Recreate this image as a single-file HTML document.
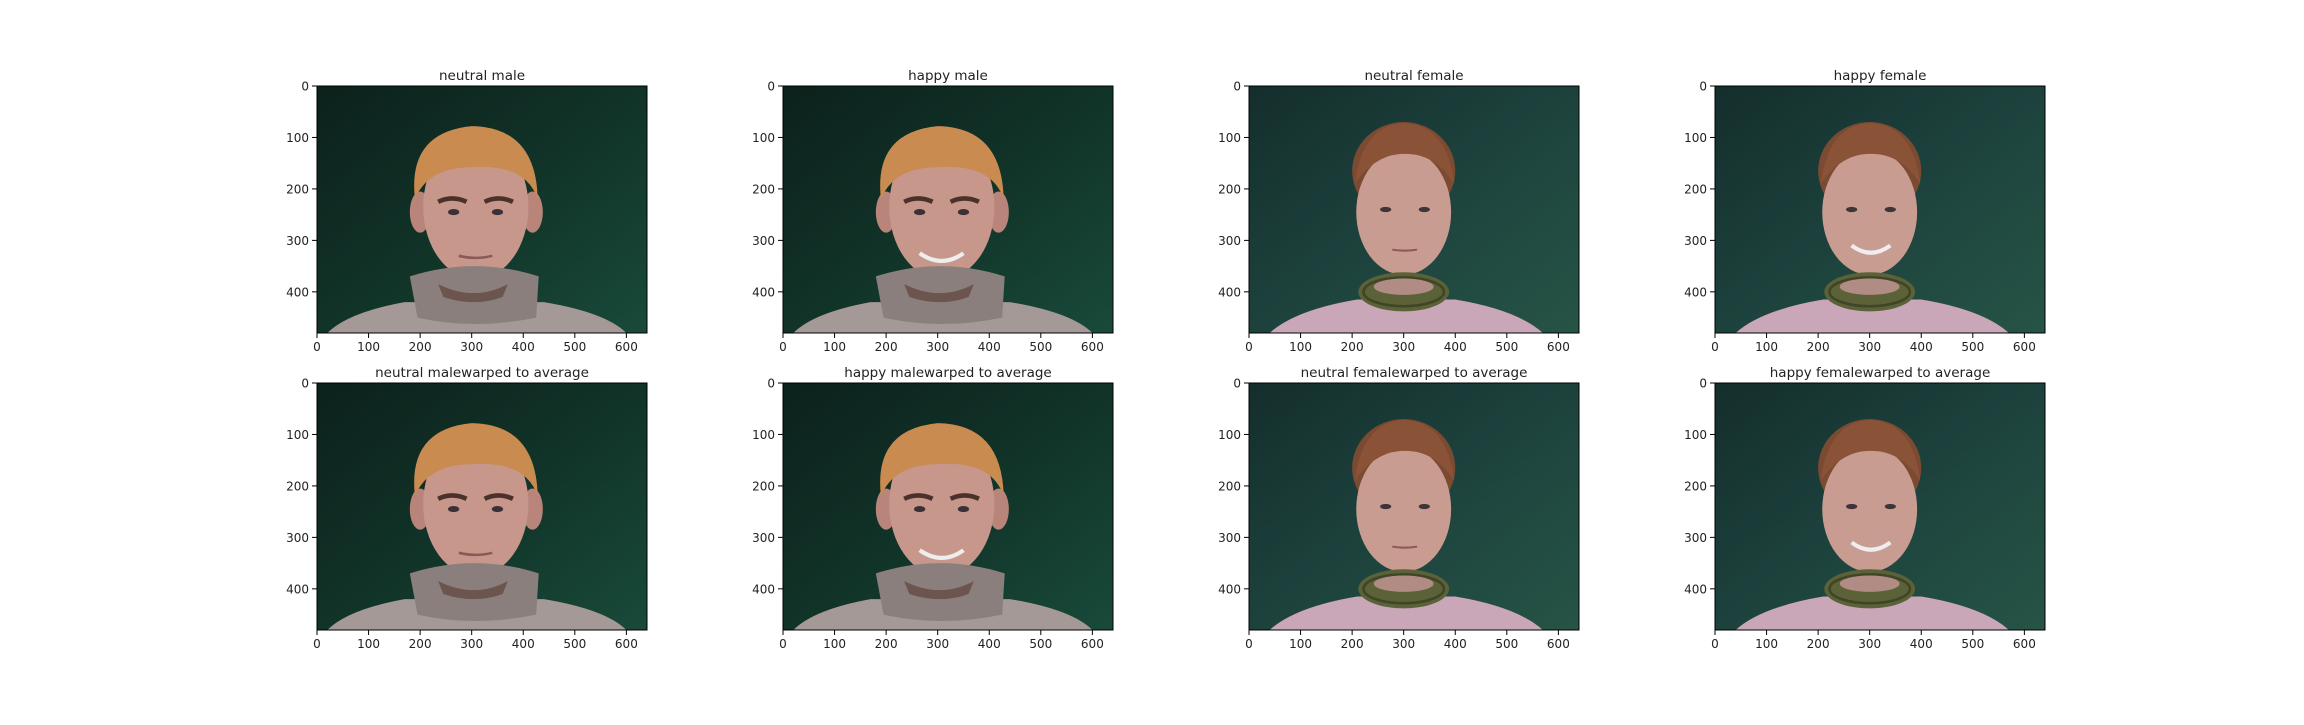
<!DOCTYPE html>
<html><head><meta charset="utf-8"><style>
html,body{margin:0;padding:0;background:#fff;}
svg text{font-family:"DejaVu Sans","Liberation Sans",sans-serif;fill:#222;}
</style></head><body>
<svg id="fig" width="2304" height="720" xmlns="http://www.w3.org/2000/svg">
<defs>
<linearGradient id="bgM" x1="0" y1="0" x2="1" y2="1"><stop offset="0" stop-color="#0c211c"/><stop offset="0.5" stop-color="#113328"/><stop offset="1" stop-color="#184a3a"/></linearGradient>
<linearGradient id="bgF" x1="0" y1="0" x2="1" y2="1"><stop offset="0" stop-color="#142e2c"/><stop offset="0.5" stop-color="#1d423d"/><stop offset="1" stop-color="#265446"/></linearGradient>
</defs>
</svg>
<script>
const titles = ["neutral male","happy male","neutral female","happy female","neutral malewarped to average","happy malewarped to average","neutral femalewarped to average","happy femalewarped to average"];
const subjects = ["m","m","f","f","m","m","f","f"];
const smiles = [0,1,0,1,0,1,0,1];
const xTicks = [0,100,200,300,400,500,600];
const yTicks = [0,100,200,300,400];
const imgW = 640, imgH = 480;
const NS = "http://www.w3.org/2000/svg";
const svg = document.getElementById('fig');
const colX = [317,783,1249,1715], rowY = [86,383], pw = 330, ph = 247;
function mk(tag, attrs, parent){const e=document.createElementNS(NS,tag);for(const k in attrs)e.setAttribute(k,attrs[k]);parent.appendChild(e);return e;}
titles.forEach((t,i)=>{
  const x0 = colX[i%4], y0 = rowY[Math.floor(i/4)];
  const sx = v => x0 + v/imgW*pw, sy = v => y0 + v/imgH*ph;
  const g = mk('g',{},svg);
  
  
  const img = mk('g',{transform:`translate(${x0},${y0}) scale(${pw/imgW},${ph/imgH})`},g);
  
  
  const f = subjects[i]==='f';
  mk('rect',{x:0,y:0,width:640,height:480,fill:f?'url(#bgF)':'url(#bgM)'},img);
  if(!f){
    mk('path',{d:'M20 480 Q60 440 170 420 L440 420 Q560 440 600 480 Z',fill:'#a49996'},img);
    mk('ellipse',{cx:200,cy:245,rx:20,ry:40,fill:'#b9857a'},img);
    mk('ellipse',{cx:418,cy:245,rx:20,ry:40,fill:'#b9857a'},img);
    mk('ellipse',{cx:308,cy:235,rx:102,ry:140,fill:'#c8978c'},img);
    mk('path',{d:'M190 220 Q175 90 300 78 Q425 80 428 220 Q405 150 300 158 Q215 158 190 220 Z',fill:'#c98b4f'},img);
    mk('path',{d:'M180 370 Q305 330 430 370 L425 450 Q305 475 195 450 Z',fill:'#8a7f7c'},img);
    mk('path',{d:'M235 385 Q305 420 370 385 L360 410 Q305 430 245 410 Z',fill:'#6b554e'},img);
    mk('path',{d:'M235 225 Q262 212 290 225 M325 225 Q352 212 380 225',stroke:'#4a322a','stroke-width':9,fill:'none'},img);
    mk('ellipse',{cx:265,cy:245,rx:11,ry:6,fill:'#3a3038'},img);
    mk('ellipse',{cx:350,cy:245,rx:11,ry:6,fill:'#3a3038'},img);
    mk('path',{d:smiles[i]?'M265 325 Q308 355 350 325':'M275 330 Q308 338 340 330',stroke:smiles[i]?'#eee':'#8a5a58','stroke-width':smiles[i]?8:5,fill:'none'},img);
  } else {
    mk('path',{d:'M40 480 Q90 435 210 415 L400 415 Q520 435 570 480 Z',fill:'#c9a7b9'},img);
    mk('ellipse',{cx:300,cy:165,rx:100,ry:95,fill:'#7a4a32'},img);
    mk('ellipse',{cx:300,cy:245,rx:92,ry:122,fill:'#c99c92'},img);
    mk('path',{d:'M205 190 Q220 75 300 72 Q385 75 398 190 Q360 130 300 132 Q245 132 205 190 Z',fill:'#8a5236'},img);
    mk('ellipse',{cx:300,cy:400,rx:88,ry:38,fill:'#5b6238'},img);
    mk('ellipse',{cx:300,cy:400,rx:78,ry:28,fill:'none',stroke:'#3f4526','stroke-width':5},img);
    mk('ellipse',{cx:300,cy:390,rx:58,ry:16,fill:'#b08c84'},img);
    mk('ellipse',{cx:265,cy:240,rx:11,ry:5,fill:'#3f3438'},img);
    mk('ellipse',{cx:340,cy:240,rx:11,ry:5,fill:'#3f3438'},img);
    mk('path',{d:smiles[i]?'M265 310 Q302 338 340 310':'M278 318 Q302 322 326 318',stroke:smiles[i]?'#eee':'#8a5a58','stroke-width':smiles[i]?8:4,fill:'none'},img);
  }
  mk('rect',{x:x0,y:y0,width:pw,height:ph,fill:'none',stroke:'#000','stroke-width':1},g);
  xTicks.forEach(v=>{
    const x=sx(v);
    mk('line',{x1:x,x2:x,y1:y0+ph,y2:y0+ph+5,stroke:'#000'},g);
    const tx=mk('text',{x:x,y:y0+ph+18,'text-anchor':'middle','font-size':12},g);
    
    
    tx.textContent=v;
  });
  yTicks.forEach(v=>{
    const y=sy(v);
    mk('line',{x1:x0-5,x2:x0,y1:y,y2:y,stroke:'#000'},g);
    const tx=mk('text',{x:x0-8,y:y+4.5,'text-anchor':'end','font-size':12},g);
    
    
    tx.textContent=v;
  });
  const tt=mk('text',{x:x0+pw/2,y:y0-6,'text-anchor':'middle','font-size':13.5},g);
  
  
  tt.textContent=t;
});
</script>
</body></html>
